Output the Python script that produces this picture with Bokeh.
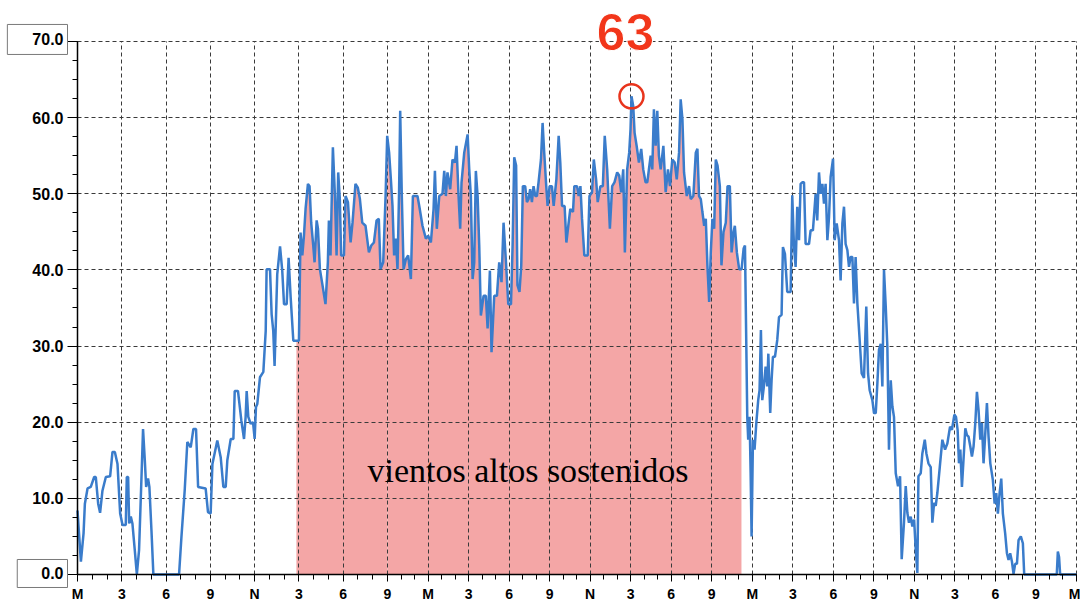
import numpy as np
from bokeh.plotting import figure
from bokeh.models import FixedTicker, Label, Range1d, LinearAxis, Grid
from bokeh.embed import file_html
from bokeh.resources import INLINE

# ---------------- data ----------------
hours = [
    0.00, 0.23, 0.41, 0.50, 0.68, 0.90, 1.13, 1.24, 1.40, 1.53, 1.69, 1.92, 2.21, 2.37, 2.53, 2.71,
    2.89, 3.05, 3.27, 3.34, 3.43, 3.50, 3.61, 3.72, 3.88, 4.02, 4.17, 4.35, 4.44, 4.56, 4.65, 4.78,
    4.87, 5.01, 5.14, 6.88, 7.04, 7.26, 7.44, 7.67, 7.85, 8.03, 8.17, 8.68, 8.84, 9.02, 9.14, 9.47,
    9.70, 9.88, 10.04, 10.15, 10.38, 10.56, 10.65, 10.87, 11.10, 11.28, 11.39, 11.46, 11.57, 11.73,
    11.89, 12.00, 12.09, 12.18, 12.36, 12.59, 12.75, 12.81, 13.04, 13.15, 13.26, 13.35, 13.42, 13.53,
    13.72, 13.87, 13.99, 14.17, 14.30, 14.44, 14.62, 14.84,
    15.00, 15.11, 15.23, 15.34, 15.45, 15.61, 15.72, 15.83, 15.97, 16.06, 16.20, 16.29, 16.42, 16.58,
    16.80, 16.96, 17.03, 17.14, 17.30, 17.44, 17.55, 17.66, 17.77, 17.86, 18.05, 18.16, 18.32, 18.50,
    18.63, 18.83, 18.99, 19.13, 19.29, 19.51, 19.74, 19.90, 20.08, 20.26, 20.41, 20.53, 20.71, 20.87,
    20.98, 21.12, 21.25, 21.37, 21.49, 21.62, 21.74, 21.86, 21.94, 22.06, 22.19, 22.36, 22.53, 22.73,
    22.88, 23.10, 23.22, 23.35, 23.59, 23.84, 24.01, 24.21, 24.41, 24.51, 24.65, 24.83, 25.07, 25.20,
    25.32, 25.44, 25.64, 25.81, 25.99, 26.11, 26.26, 26.38, 26.48, 26.68, 26.93, 27.05, 27.17, 27.30,
    27.42, 27.54, 27.67, 27.79, 27.91, 28.11, 28.28, 28.41, 28.58, 28.70, 28.90, 29.10, 29.27, 29.44,
    29.59, 29.77, 29.94, 30.14, 30.26,
    30.38, 30.52, 30.62, 30.77, 30.90, 31.02, 31.19, 31.32, 31.44, 31.56, 31.69, 31.81, 31.94, 32.06,
    32.18, 32.36, 32.48, 32.60, 32.75, 32.85, 33.00, 33.17, 33.30, 33.50, 33.67, 33.79, 33.92, 34.11,
    34.24, 34.41, 34.53, 34.73, 34.83, 35.03, 35.15, 35.28, 35.40, 35.57, 35.82, 35.95, 36.14, 36.27,
    36.44, 36.56, 36.76, 36.94, 37.08, 37.26, 37.46, 37.63, 37.80, 38.00, 38.15, 38.30, 38.45, 38.57,
    38.74, 38.89, 38.99, 39.06, 39.19, 39.29, 39.44, 39.61, 39.78, 39.93, 40.10, 40.23, 40.35, 40.48,
    40.60, 40.72, 40.85, 40.97, 41.09, 41.22, 41.42, 41.59, 41.76, 41.91, 42.08, 42.26, 42.41, 42.58,
    42.70, 42.83, 42.95, 43.15, 43.32, 43.45, 43.64, 43.82, 43.94, 44.06, 44.19, 44.31, 44.44, 44.56,
    44.68, 44.81, 44.93, 45.05, 45.18, 45.30, 45.43, 45.60, 45.72, 45.87, 46.04, 46.17, 46.34, 46.47,
    46.61, 46.71, 46.86, 47.03, 47.21, 47.36, 47.46,
    47.63, 47.70, 47.80, 47.88, 47.95, 48.05, 48.17, 48.30, 48.44, 48.54, 48.64, 48.74, 48.86, 48.99,
    49.11, 49.19, 49.33, 49.43, 49.53, 49.68, 49.85, 49.98, 50.17, 50.27, 50.42, 50.59, 50.84, 50.96,
    51.09, 51.21, 51.33, 51.46, 51.58, 51.70, 51.83, 51.95, 52.20, 52.32, 52.49, 52.69, 52.81, 52.94,
    53.06, 53.19, 53.31, 53.43, 53.56, 53.68, 53.80, 53.98, 54.10, 54.25, 54.42, 54.54, 54.67, 54.79,
    54.91, 55.04, 55.16, 55.28, 55.41, 55.53, 55.65, 55.78, 55.95, 56.10, 56.27, 56.44, 56.57, 56.69,
    56.89, 57.01, 57.14, 57.26, 57.38, 57.51, 57.63, 57.75, 57.88, 58.00, 58.12, 58.25, 58.37, 58.49,
    58.62, 58.79, 58.94, 59.06, 59.23, 59.36, 59.48, 59.60, 59.73, 59.85, 59.98, 60.10, 60.22, 60.30,
    60.47, 60.59, 60.77, 60.89, 61.04, 61.21, 61.33, 61.46, 61.58, 61.70, 61.88, 62.07, 62.27, 62.44,
    62.64,
    62.78, 62.96, 63.08, 63.20, 63.30, 63.40, 63.52, 63.65, 63.77, 63.89, 64.01, 64.14, 64.26, 64.38,
    64.51, 64.63, 64.75, 64.88, 65.00, 65.12, 65.25, 65.37, 65.49, 65.62, 65.81, 65.94, 66.06, 66.18,
    66.31, 66.43, 66.55, 66.72, 66.85, 66.97, 67.09, 67.22, 67.34, 67.46, 67.59, 67.71, 67.88, 68.03,
    68.13, 70.54, 70.62, 70.71, 70.79, 72.00,
]

wind = [
    8.4, 1.7, 5.4, 9.3, 11.3, 11.5, 12.8, 12.8, 9.3, 8.1, 11.0, 12.8, 12.9, 16.1, 16.1, 14.5,
    8.0, 6.5, 6.5, 12.8, 12.8, 6.7, 7.6, 6.7, 3.2, 0.0, 3.2, 13.7, 19.1, 15.0, 11.5, 12.6,
    11.5, 5.8, 0.0, 0.0, 4.9, 11.0, 17.4, 16.7, 19.1, 19.1, 11.5, 11.3, 8.2, 8.0, 14.5, 17.6,
    15.4, 11.5, 11.5, 15.0, 17.8, 17.8, 24.1, 24.1, 20.2, 17.8, 20.7, 24.1, 20.7, 19.8,
    20.0, 17.8, 22.0, 22.4, 25.9, 26.6, 32.0, 40.1, 40.1, 34.2, 32.0, 27.4, 32.0, 39.4,
    43.1, 39.9, 35.5, 35.5, 41.6, 36.4, 30.7, 30.7,
    30.7, 44.9, 41.9, 44.5, 48.0, 51.3, 51.0, 46.2, 43.2, 41.0, 46.5, 45.4, 40.1, 38.2,
    35.5, 41.0, 46.5, 41.9, 56.1, 49.7, 41.9, 52.8, 49.3, 41.9, 41.9, 49.7, 48.9, 43.6,
    46.2, 51.3, 50.8, 49.3, 46.2, 45.8, 42.3, 43.2, 43.6, 46.5, 46.7, 40.1, 41.0, 49.7,
    57.6, 55.4, 51.9, 48.4, 41.9, 44.1, 40.1, 50.6, 60.9, 49.7, 40.1, 41.4, 41.9, 38.8,
    49.7, 49.7, 49.7, 48.4, 45.8, 44.1, 44.5, 43.6, 48.0, 53.0, 45.4, 49.7, 50.0, 53.0,
    49.7, 52.8, 50.6, 54.5, 54.1, 56.3, 49.7, 45.4, 51.5, 55.4, 57.8, 53.2, 49.7, 38.8,
    41.0, 53.0, 49.7, 43.2, 34.0, 36.6, 36.6, 32.3, 39.9, 29.2, 36.6, 36.6, 41.0, 38.4,
    46.2, 41.0, 35.5, 35.5, 43.2,
    54.8, 53.7, 38.0, 37.1, 40.6, 51.0, 51.0, 48.9, 49.3, 50.6, 48.9, 51.0, 49.7, 49.7,
    51.5, 54.5, 59.3, 55.4, 51.0, 48.4, 51.0, 51.0, 48.4, 51.9, 57.6, 54.1, 48.4, 48.4,
    43.6, 46.2, 48.0, 47.6, 51.0, 51.0, 49.7, 51.0, 46.7, 41.9, 41.9, 49.7, 50.2, 54.5,
    51.9, 48.9, 51.0, 51.0, 57.6, 53.2, 45.4, 51.0, 51.5, 52.8, 52.4, 50.2, 53.2, 42.3,
    53.2, 55.4, 58.5, 62.8, 61.5, 58.0, 56.3, 54.1, 55.9, 53.2, 51.5, 51.5, 53.2, 55.0,
    53.2, 61.1, 56.3, 60.9, 55.0, 53.2, 56.3, 50.2, 53.2, 51.0, 54.5, 54.1, 51.9, 55.4,
    62.4, 59.8, 52.8, 49.7, 51.0, 49.3, 49.7, 55.4, 55.9, 49.7, 49.3, 47.6, 45.8, 46.7,
    40.6, 35.8, 42.3, 46.7, 45.4, 54.5, 53.7, 51.0, 40.6, 45.0, 46.2, 51.0, 51.0, 42.3,
    44.9, 45.8, 42.3, 40.1, 40.1, 42.8, 43.2,
    20.7, 17.7, 20.7, 13.3, 5.0, 17.7, 16.4, 19.9, 22.9, 24.2, 32.1, 22.9, 24.7, 27.3,
    24.7, 29.0, 21.2, 25.5, 28.6, 28.6, 30.8, 33.8, 34.1, 43.0, 42.1, 37.1, 37.1, 49.8,
    43.0, 40.4, 48.3, 43.9, 51.3, 51.5, 51.5, 43.4, 43.4, 45.2, 45.2, 50.0, 46.5, 52.8,
    50.0, 51.3, 48.7, 51.3, 43.9, 46.9, 52.2, 54.6, 43.9, 46.1, 43.9, 38.6, 46.1, 48.3,
    43.4, 42.6, 40.4, 41.7, 41.7, 35.6, 41.7, 35.6, 30.8, 26.4, 25.8, 35.2, 26.4, 24.2,
    22.9, 21.2, 21.2, 25.1, 29.5, 30.3, 24.7, 40.0, 35.2, 29.9, 16.4, 25.5, 22.1, 20.7,
    13.3, 11.6, 12.9, 2.0, 6.8, 11.6, 8.1, 6.8, 7.6, 6.3, 7.2, 3.3, 0.2, 12.9,
    13.3, 15.9, 17.7, 15.9, 14.6, 14.1, 6.8, 9.4, 9.0, 10.7, 14.1, 17.7, 16.4, 17.2,
    19.4,
    19.0, 21.0, 20.7, 19.0, 14.6, 16.4, 11.5, 15.5, 19.2, 18.3, 18.1, 16.8, 15.5, 16.8,
    19.9, 24.0, 21.6, 17.7, 19.9, 14.6, 18.6, 22.5, 18.1, 14.6, 12.4, 9.3, 10.7, 8.0,
    10.7, 12.6, 8.0, 5.4, 2.8, 1.9, 2.8, 1.7, 0.1, 1.4, 1.4, 4.5, 5.0, 4.1,
    0.0, 0.0, 3.0, 2.3, 0.0, 0.0,
]

x_tick_hours = list(range(0, 73, 3))
x_tick_labels = ["M", "3", "6", "9", "N", "3", "6", "9"] * 3 + ["M"]
y_ticks = [0, 10, 20, 30, 40, 50, 60, 70]
y_minor = [v * 2.5 for v in range(0, 29)]
x_span = (0, 72)
y_span = (0, 70)

# the source's time axis is drawn at two scales: 0-21 h wider, 21-72 h narrower
break_h = 21

fill_start_h = 14.83
fill_end_h = 47.2
band_text = "vientos altos sostenidos"
band_text_hour = 31.4
band_text_level = 13.6

# ---------------- layout of the two time scales ----------------
W, H = 1080, 603
x0_px, xb_px, x1_px = 77, 387, 1076
s_early = (xb_px - x0_px) / (break_h - x_span[0])
s_late = (x1_px - xb_px) / (x_span[1] - break_h)
early_range = Range1d(x_span[0] - x0_px / s_early, x_span[0] + (W - x0_px) / s_early)
late_range = Range1d(break_h - xb_px / s_late, x_span[1] + (W - x1_px) / s_late)

p = figure(width=W, height=H, x_range=early_range, y_range=Range1d(-3.81, 75.38),
           output_backend="svg", toolbar_location=None, title=None,
           min_border_left=0, min_border_top=0, min_border_right=0, min_border_bottom=0)
p.extra_x_ranges = {"late": late_range}
p.outline_line_color = None
p.background_fill_color = "white"
p.border_fill_color = "white"

h = np.array(hours)
w = np.array(wind)
w_break = float(np.interp(break_h, h, w))

# split the series at the scale break (the break point belongs to both parts)
e_mask = h < break_h
h_e = np.concatenate([h[e_mask], [break_h]])
w_e = np.concatenate([w[e_mask], [w_break]])
l_mask = h > break_h
h_l = np.concatenate([[break_h], h[l_mask]])
w_l = np.concatenate([[w_break], w[l_mask]])

# sustained high-wind band: area under the line
def band(hh, ww, a, b):
    m = (hh > a) & (hh < b)
    return (np.concatenate([[a], hh[m], [b]]),
            np.concatenate([[np.interp(a, hh, ww)], ww[m], [np.interp(b, hh, ww)]]))

fh_e, fw_e = band(h_e, w_e, fill_start_h, break_h)
fh_l, fw_l = band(h_l, w_l, break_h, fill_end_h)
fill_color = "#F4A6A6"
p.varea(x=fh_e, y1=0, y2=fw_e, fill_color=fill_color, level="image")
p.varea(x=fh_l, y1=0, y2=fw_l, fill_color=fill_color, level="image", x_range_name="late")

line_color = "#3A7CCB"
p.line(h_e, w_e, line_color=line_color, line_width=2.5)
p.line(h_l, w_l, line_color=line_color, line_width=2.5, x_range_name="late")

# peak marker
ip = int(np.argmax(w))
peak_h, peak_v = float(h[ip]), float(w[ip])
p.scatter(x=[peak_h], y=[peak_v], marker="circle", size=24, fill_color=None,
          line_color="#E8341C", line_width=2.5, x_range_name="late")
p.add_layout(Label(x=peak_h, y=572, y_units="screen", x_range_name="late",
                   text=f"{round(peak_v)}", text_align="center", text_baseline="middle",
                   x_offset=-6, text_font="Liberation Sans", text_font_style="bold",
                   text_font_size="52px", text_color="#F2361A",
                   text_outline_color="white"))

p.add_layout(Label(x=band_text_hour, y=band_text_level, x_range_name="late", text=band_text,
                   text_align="center", text_baseline="middle", text_font="Liberation Serif",
                   text_font_size="34px", text_color="black"))

# ---------------- axes & grid ----------------
early_ticks = [t for t in x_tick_hours if t < break_h]
late_ticks = [t for t in x_tick_hours if t >= break_h]
labels = {t: lab for t, lab in zip(x_tick_hours, x_tick_labels)}

ax_e = p.xaxis[0]
ax_e.ticker = FixedTicker(ticks=early_ticks, minor_ticks=list(range(0, break_h)))
ax_e.major_label_overrides = {t: labels[t] for t in early_ticks}
ax_e.bounds = (x_span[0], break_h)
ax_e.fixed_location = 0

ax_l = LinearAxis(x_range_name="late",
                  ticker=FixedTicker(ticks=late_ticks, minor_ticks=list(range(break_h, 73))),
                  major_label_overrides={t: labels[t] for t in late_ticks},
                  bounds=(break_h, x_span[1]), fixed_location=0)
p.add_layout(ax_l, "below")

p.yaxis.fixed_location = 0
p.yaxis.bounds = y_span
p.yaxis.ticker = FixedTicker(ticks=y_ticks, minor_ticks=y_minor)
ylab = {t: f"{t:.1f}" for t in y_ticks}
ylab[y_ticks[0]] = ""
ylab[y_ticks[-1]] = ""
p.yaxis.major_label_overrides = ylab

for ax in (ax_e, ax_l, p.yaxis[0]):
    ax.axis_line_color = "black"
    ax.axis_line_width = 1.5
    ax.major_tick_line_color = "black"
    ax.minor_tick_line_color = "black"
    ax.major_tick_in = 0
    ax.minor_tick_in = 0
    ax.major_label_text_font = "Liberation Sans"
    ax.major_label_text_font_style = "bold"
    ax.major_label_text_color = "black"

for ax in (ax_e, ax_l):
    ax.major_tick_out = 7
    ax.minor_tick_out = 5
    ax.major_label_standoff = 5
    ax.major_label_text_font_size = "14px"

p.yaxis.major_tick_out = 10
p.yaxis.minor_tick_out = 5
p.yaxis.major_label_standoff = 4
p.yaxis.major_label_text_font_size = "16px"

grid_style = dict(grid_line_color="#3a3a3a", grid_line_dash="4 3", grid_line_width=1)
p.xgrid.ticker = FixedTicker(ticks=early_ticks)
p.xgrid.bounds = (x_span[0], break_h)
p.xgrid.cross_bounds = y_span
p.ygrid.ticker = FixedTicker(ticks=y_ticks)
p.ygrid.bounds = y_span
p.ygrid.x_range_name = "late"
p.ygrid.cross_bounds = (break_h - (xb_px - x0_px) / s_late, x_span[1])
for g in (p.xgrid[0], p.ygrid[0]):
    for k, v in grid_style.items():
        setattr(g, k, v)
g_l = Grid(dimension=0, x_range_name="late", ticker=FixedTicker(ticks=late_ticks),
           bounds=(break_h, x_span[1]), cross_bounds=y_span, **grid_style)
p.add_layout(g_l, "center")

# boxed end labels of the y axis
for yv, pad_left, pad_v, y_off in ((y_ticks[-1], 25, 9, 2), (y_ticks[0], 24, 8, 1)):
    p.add_layout(Label(x=67, y=yv, x_units="screen", y_units="data", y_offset=y_off,
                       text=f"{yv:.1f}", text_align="right", text_baseline="middle",
                       text_font="Liberation Sans", text_font_style="bold",
                       text_font_size="16px", text_color="black",
                       border_line_color="#7a7a7a", border_line_width=1,
                       background_fill_color="white",
                       padding=dict(left=pad_left, right=4, top=pad_v, bottom=pad_v)))

open("out.html", "w").write(file_html(p, INLINE))
